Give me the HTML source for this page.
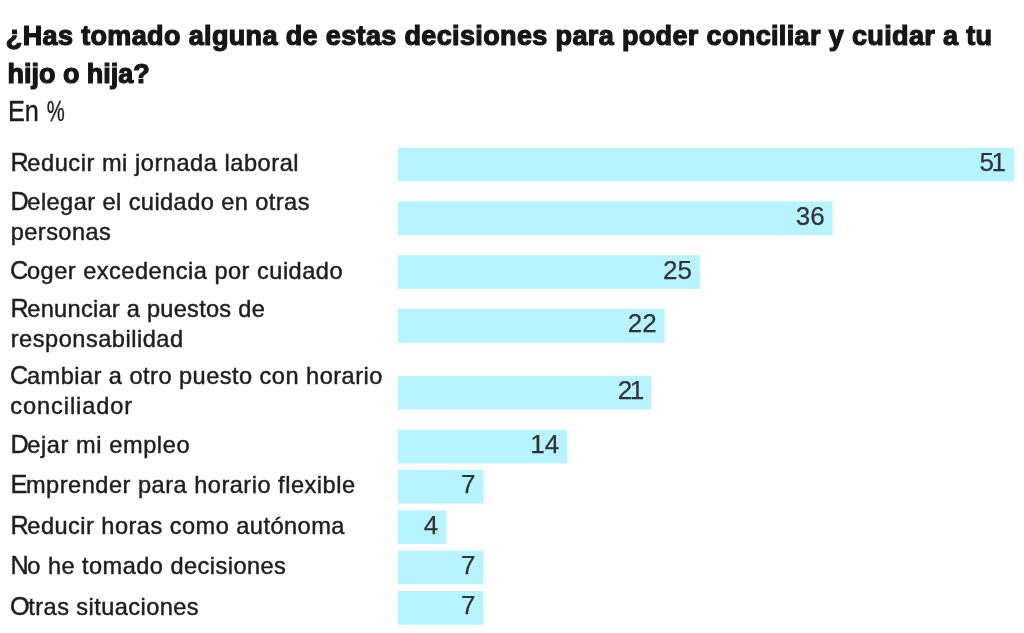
<!DOCTYPE html>
<html lang="es"><head><meta charset="utf-8"><title>Gráfico</title>
<style>
html,body{margin:0;padding:0;background:#fff;}
body{width:1024px;height:633px;position:relative;overflow:hidden;font-family:"Liberation Sans",sans-serif;color:#1c1c1c;}
div{position:absolute;white-space:nowrap;}
.t{font-weight:bold;color:#161616;-webkit-text-stroke:1.2px #161616;font-size:27.0px;line-height:34px;}
.s{color:#1c1c1c;transform-origin:0 0;-webkit-text-stroke:0.35px #1c1c1c;font-size:29.4px;line-height:37px;}
.s span{display:inline-block;position:relative;transform-origin:0 0;}
.sp{transform:scaleX(0.80);left:0.8px;}
.l{color:#1e1e1e;-webkit-text-stroke:0.45px #1e1e1e;font-size:23.6px;line-height:30px;}
.u::first-letter{font-size:1.07em;line-height:0;letter-spacing:-1.4px;}
.v{color:#333;text-align:right;width:100px;-webkit-text-stroke:0.25px #333;font-size:26.0px;line-height:32px;}
</style></head><body>

<div class="t" style="left:5.80px;top:19px;letter-spacing:0.361px;">¿Has tomado alguna de estas decisiones para poder conciliar y cuidar a tu</div>
<div class="t" style="left:7.60px;top:57px;letter-spacing:-0.036px;">hijo o hija?</div>
<div class="s" style="left:8.00px;top:92px;letter-spacing:0.000px;transform:scaleX(0.8600);">En <span class="sp">%</span></div>
<svg width="1024" height="633" viewBox="0 0 1024 633" style="position:absolute;left:0;top:0" fill="#b8f4ff"><rect x="397.9" y="147.8" width="616.1" height="33.7"/><rect x="397.9" y="201.5" width="434.8" height="33.7"/><rect x="397.9" y="255.2" width="302.1" height="33.7"/><rect x="397.9" y="308.9" width="266.8" height="33.7"/><rect x="397.9" y="375.9" width="253.4" height="33.7"/><rect x="397.9" y="429.7" width="169.4" height="33.7"/><rect x="397.9" y="470.0" width="85.7" height="33.7"/><rect x="397.9" y="510.3" width="48.5" height="33.7"/><rect x="397.9" y="550.6" width="85.6" height="33.7"/><rect x="397.9" y="591.0" width="85.6" height="33.7"/></svg>
<div class="v" style="left:903.3px;top:146px;letter-spacing:-2.6px;">51</div>
<div class="v" style="left:724.6px;top:200px;">36</div>
<div class="v" style="left:591.9px;top:254px;">25</div>
<div class="v" style="left:556.6px;top:307px;">22</div>
<div class="v" style="left:541.6px;top:374px;letter-spacing:-2.6px;">21</div>
<div class="v" style="left:459.2px;top:428px;">14</div>
<div class="v" style="left:375.5px;top:468px;">7</div>
<div class="v" style="left:338.3px;top:509px;">4</div>
<div class="v" style="left:375.4px;top:549px;">7</div>
<div class="v" style="left:375.4px;top:589px;">7</div>
<div class="l u" style="left:10.50px;top:148px;letter-spacing:0.536px;">Reducir mi jornada laboral</div>
<div class="l u" style="left:10.50px;top:187px;letter-spacing:0.423px;">Delegar el cuidado en otras</div>
<div class="l" style="left:10.75px;top:217px;letter-spacing:0.429px;">personas</div>
<div class="l u" style="left:10.10px;top:256px;letter-spacing:0.485px;">Coger excedencia por cuidado</div>
<div class="l u" style="left:10.50px;top:294px;letter-spacing:0.262px;">Renunciar a puestos de</div>
<div class="l" style="left:10.75px;top:324px;letter-spacing:0.500px;">responsabilidad</div>
<div class="l u" style="left:10.10px;top:361px;letter-spacing:0.463px;">Cambiar a otro puesto con horario</div>
<div class="l" style="left:10.30px;top:391px;letter-spacing:0.900px;">conciliador</div>
<div class="l u" style="left:10.50px;top:430px;letter-spacing:0.571px;">Dejar mi empleo</div>
<div class="l u" style="left:10.50px;top:470px;letter-spacing:0.493px;">Emprender para horario flexible</div>
<div class="l u" style="left:10.50px;top:511px;letter-spacing:0.458px;">Reducir horas como autónoma</div>
<div class="l u" style="left:10.50px;top:551px;letter-spacing:0.445px;">No he tomado decisiones</div>
<div class="l u" style="left:10.10px;top:592px;letter-spacing:0.425px;">Otras situaciones</div>
</body></html>
